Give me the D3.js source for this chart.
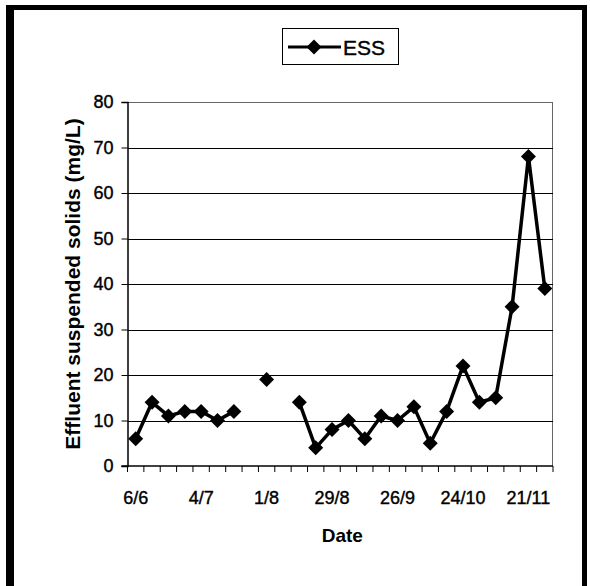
<!DOCTYPE html>
<html><head><meta charset="utf-8">
<script src="https://cdn.jsdelivr.net/npm/d3@7"></script>
<style>body{margin:0;background:#fff;}svg{display:block;font-family:"Liberation Sans",Arial,sans-serif;}</style>
</head><body>
<svg id="c" width="590" height="586"></svg>
<script>
const dates = ["6/6","13/6","20/6","27/6","4/7","11/7","18/7","25/7","1/8","8/8","15/8","22/8","29/8","5/9","12/9","19/9","26/9","3/10","10/10","17/10","24/10","31/10","7/11","14/11","21/11","28/11"];
const ess = [6,14,11,12,12,10,12,null,19,null,14,4,8,10,6,11,10,13,5,12,22,14,15,35,68,39];
const yTicks = [0,10,20,30,40,50,60,70,80];
const labelEvery = 4;

const svg = d3.select("#c");
const L=127.5, R=553, T=102, B=466;
const x = d3.scaleBand().domain(dates).range([L,R]).paddingInner(0).paddingOuter(0);
const y = d3.scaleLinear().domain([0,80]).range([B,T]);

// outer frame
svg.append("rect").attr("x",6).attr("y",5).attr("width",8).attr("height",581).attr("fill","#000");
svg.append("rect").attr("x",6).attr("y",5).attr("width",581).attr("height",5).attr("fill","#000");
svg.append("rect").attr("x",582).attr("y",5).attr("width",5).attr("height",581).attr("fill","#000");

// plot border (top/right)
svg.append("line").attr("x1",L).attr("x2",R).attr("y1",T+0.5).attr("y2",T+0.5).attr("stroke","#666").attr("stroke-width",1);
svg.append("line").attr("x1",R-0.5).attr("x2",R-0.5).attr("y1",T).attr("y2",B).attr("stroke","#666").attr("stroke-width",1);

// grid
svg.append("g").selectAll("line").data(yTicks.filter(v=>v>0&&v<80)).join("line")
  .attr("x1",L).attr("x2",R).attr("y1",d=>Math.round(y(d))+0.5).attr("y2",d=>Math.round(y(d))+0.5)
  .attr("stroke","#000").attr("stroke-width",1);

// y axis
const ya = svg.append("g").attr("transform",`translate(${L},0)`)
  .call(d3.axisLeft(y).tickValues(yTicks).tickSize(6).tickPadding(8));
ya.select(".domain").attr("stroke","#000").attr("stroke-width",1.5);
ya.selectAll("text").attr("font-size",18).attr("fill","#000").attr("stroke","#000").attr("stroke-width",0.4)
  .attr("font-family","Liberation Sans, Arial, sans-serif");

// x axis: ticks at band boundaries
const xa = svg.append("g").attr("transform",`translate(0,${B})`);
xa.append("line").attr("x1",L-6).attr("x2",R).attr("y1",0).attr("y2",0).attr("stroke","#000").attr("stroke-width",1.5);
const bounds = dates.map(d=>x(d)).concat([x(dates[dates.length-1])+x.bandwidth()]);
xa.selectAll("line.t").data(bounds).join("line").attr("class","t")
  .attr("x1",d=>d).attr("x2",d=>d).attr("y1",0).attr("y2",6).attr("stroke","#000");
xa.selectAll("text").data(dates.filter((d,i)=>i%labelEvery===0)).join("text")
  .attr("x",d=>x(d)+x.bandwidth()/2).attr("y",38).attr("text-anchor","middle")
  .attr("font-size",18).attr("stroke","#000").attr("stroke-width",0.4).text(d=>d);

// titles
svg.append("text").attr("x",(L+R)/2+2).attr("y",542).attr("text-anchor","middle")
  .attr("font-size",19).attr("font-weight","bold").text("Date");
svg.append("text").attr("transform",`translate(80,${(T+B)/2}) rotate(-90)`).attr("text-anchor","middle")
  .attr("font-size",21).attr("font-weight","bold").text("Effluent suspended solids (mg/L)");

// line
const cx = d=>x(d)+x.bandwidth()/2;
const pts = dates.map((d,i)=>({d,v:ess[i]}));
svg.append("path").datum(pts)
  .attr("d",d3.line().defined(p=>p.v!==null).x(p=>cx(p.d)).y(p=>y(p.v)))
  .attr("fill","none").attr("stroke","#000").attr("stroke-width",3.5).attr("stroke-linejoin","round");
const sym = d3.symbol().type(d3.symbolSquare).size(112);
svg.append("g").selectAll("path").data(pts.filter(p=>p.v!==null)).join("path")
  .attr("d",sym).attr("transform",p=>`translate(${cx(p.d)},${y(p.v)}) rotate(45)`).attr("fill","#000");

// legend
const lg = svg.append("g");
lg.append("rect").attr("x",282.5).attr("y",28.5).attr("width",116).attr("height",36).attr("fill","#fff").attr("stroke","#000");
lg.append("line").attr("x1",288).attr("x2",341).attr("y1",47).attr("y2",47).attr("stroke","#000").attr("stroke-width",3);
lg.append("path").attr("d",sym).attr("transform","translate(314,47) rotate(45)");
lg.append("text").attr("x",343).attr("y",55).attr("font-size",21).attr("stroke","#000").attr("stroke-width",0.4).text("ESS");
</script>
</body></html>
